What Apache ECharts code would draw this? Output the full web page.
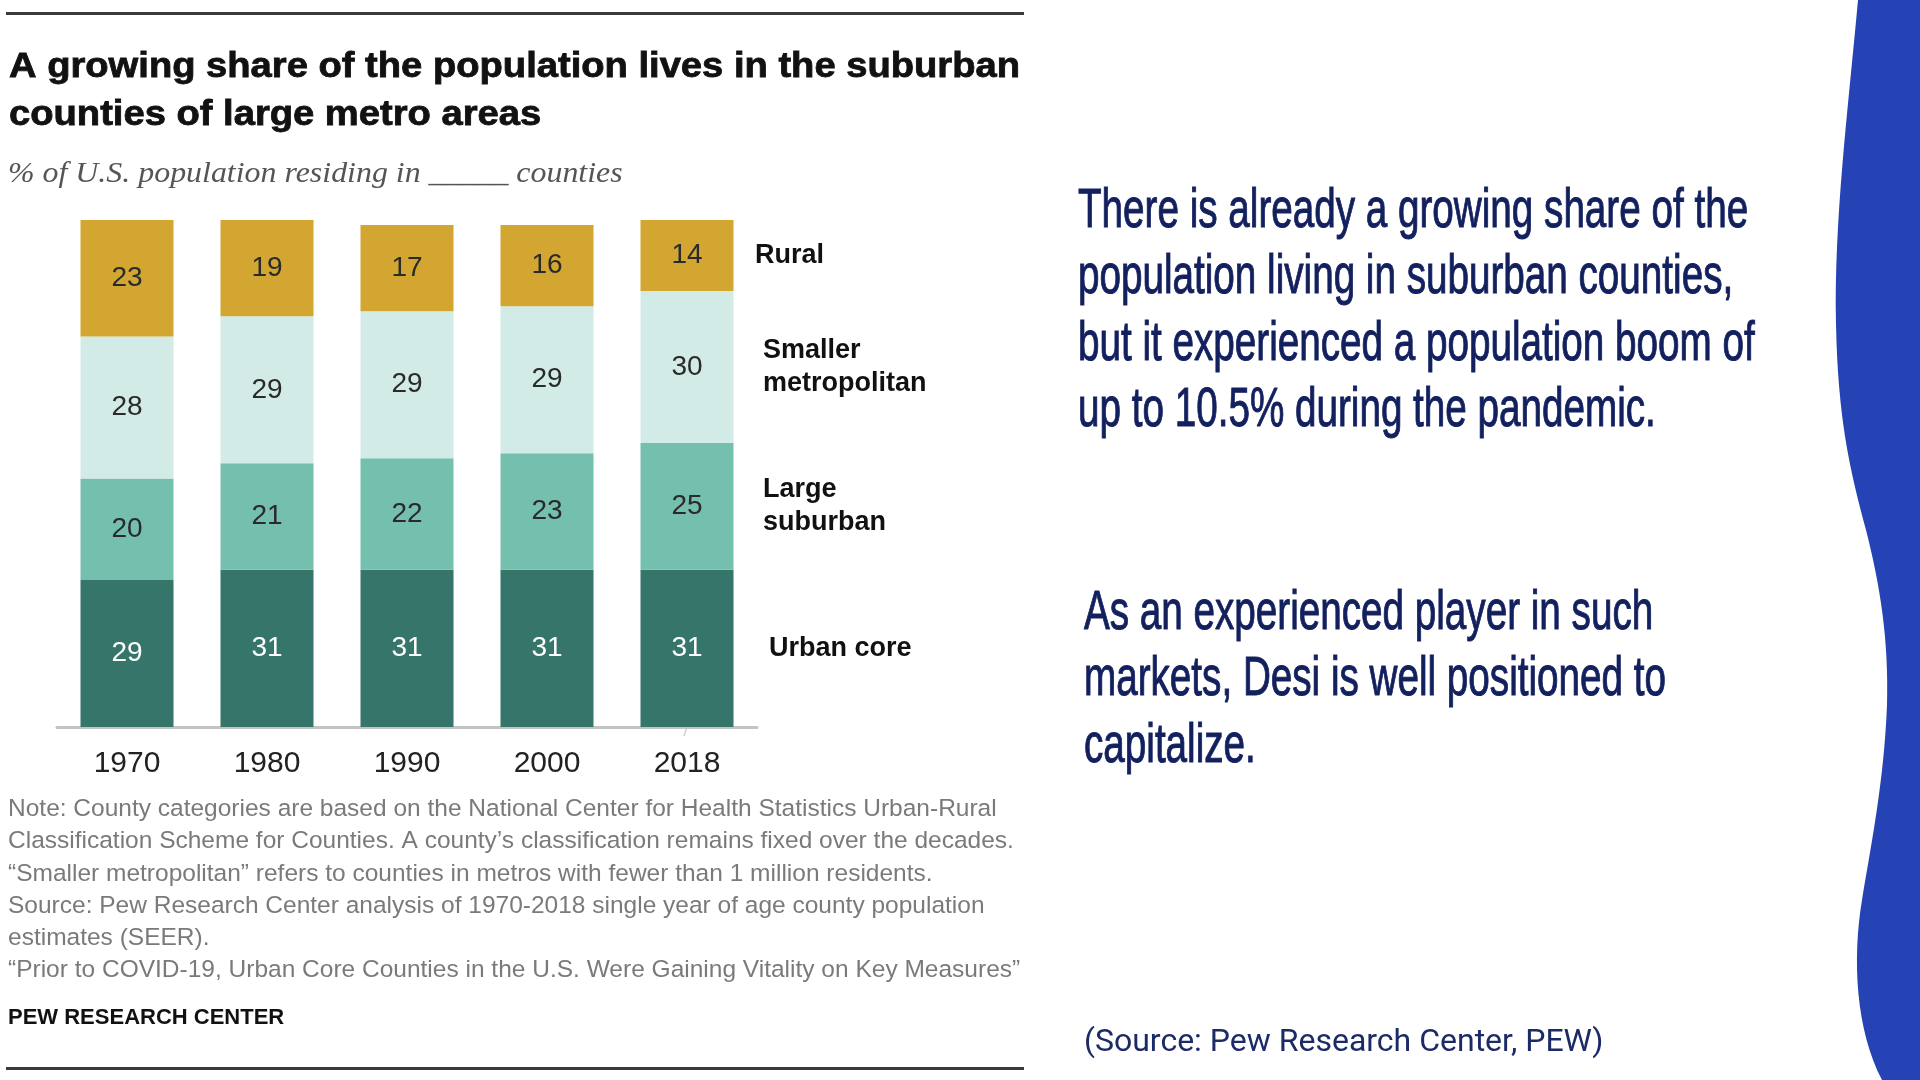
<!DOCTYPE html>
<html>
<head>
<meta charset="utf-8">
<script src="https://cdn.jsdelivr.net/npm/echarts@6/dist/echarts.min.js"></script>
<style>
  html, body { margin: 0; padding: 0; background: #fff; }
  #main { width: 1920px; height: 1080px; }
</style>
</head>
<body>
<div id="main"></div>
<script>
// data (% of U.S. population)
var years = ['1970', '1980', '1990', '2000', '2018'];
var groupNames = ['Urban core', 'Large\nsuburban', 'Smaller\nmetropolitan', 'Rural'];
var urbanCore = [29, 31, 31, 31, 31];
var largeSuburban = [20, 21, 22, 23, 25];
var smallerMetro = [28, 29, 29, 29, 30];
var rural = [23, 19, 17, 16, 14];
var yTicks = [0, 100];

var colors = ['#36766a', '#74bfae', '#d3ebe6', '#d2a631'];
var labelColors = ['#ffffff', '#2a2a2a', '#2a2a2a', '#2a2a2a'];
var sans = "'Liberation Sans', Arial, sans-serif";

var noteLines = [
  'Note: County categories are based on the National Center for Health Statistics Urban-Rural',
  'Classification Scheme for Counties. A county\u2019s classification remains fixed over the decades.',
  '\u201cSmaller metropolitan\u201d refers to counties in metros with fewer than 1 million residents.',
  'Source: Pew Research Center analysis of 1970-2018 single year of age county population',
  'estimates (SEER).',
  '\u201cPrior to COVID-19, Urban Core Counties in the U.S. Were Gaining Vitality on Key Measures\u201d'
];

// blue wave down the right edge of the slide
var wavePath = 'M1858,0 C1848,110 1834,220 1836,324 C1838,420 1850,470 1866,530 ' +
  'C1880,585 1889,640 1887,705 C1884,780 1872,840 1862,900 C1852,960 1856,1030 1882,1080 ' +
  'L1920,1080 L1920,0 Z';

var chartDom = document.getElementById('main');
var myChart = echarts.init(chartDom);
var option;

var values = [urbanCore, largeSuburban, smallerMetro, rural];

var barSeries = values.map(function (arr, k) {
  return {
    name: groupNames[k],
    type: 'bar',
    stack: 'total',
    barWidth: 93,
    data: arr,
    itemStyle: { color: colors[k] },
    label: {
      show: true,
      position: 'inside',
      color: labelColors[k],
      fontSize: 28,
      fontFamily: sans
    }
  };
});

barSeries.push({
  type: 'custom',
  coordinateSystem: 'none',
  silent: true,
  data: [0],
  renderItem: function () {
    return { type: 'path', shape: { pathData: wavePath }, style: { fill: '#2543b5' } };
  }
});

option = {
  backgroundColor: '#ffffff',
  animation: false,
  grid: { left: 57, width: 700, top: 220, bottom: 353 },
  xAxis: {
    type: 'category',
    data: years,
    axisTick: { show: false },
    axisLine: { lineStyle: { color: '#c4c4c4', width: 3 } },
    axisLabel: { color: '#222', fontSize: 30, fontFamily: sans, margin: 22 }
  },
  yAxis: {
    type: 'value',
    min: yTicks[0],
    max: yTicks[1],
    show: false,
    splitLine: { show: false }
  },
  series: barSeries
};

option && myChart.setOption(option);

// series names beside the 2018 bar, centred on each segment
var last = years.length - 1;
var cum = 0;
var g = [];
var nameShift = [10, 4, 4, -4];
values.forEach(function (arr, k) {
  var mid = cum + arr[last] / 2;
  cum += arr[last];
  var p = myChart.convertToPixel({ seriesIndex: k }, [last, mid]);
  g.push({
    type: 'text',
    x: p[0] + 46 + 26 + nameShift[k],
    y: p[1],
    style: {
      text: groupNames[k],
      fontFamily: sans,
      fontWeight: 'bold',
      fontSize: 27,
      lineHeight: 33,
      fill: '#111',
      verticalAlign: 'middle'
    }
  });
});

// small break mark on the axis between 2000 and 2018
var axisP = myChart.convertToPixel({ seriesIndex: 0 }, [3.5, 0]);
g.push(
  { type: 'rect', shape: { x: axisP[0] - 18, y: axisP[1] - 4, width: 36, height: 8 }, style: { fill: '#fff' } },
  { type: 'line', shape: { x1: axisP[0] - 12, y1: axisP[1], x2: axisP[0] + 10, y2: axisP[1] }, style: { stroke: '#d0d0d0', lineWidth: 2 } },
  { type: 'line', shape: { x1: axisP[0] - 3, y1: axisP[1] + 9, x2: axisP[0] + 3, y2: axisP[1] - 9 }, style: { stroke: '#d0d0d0', lineWidth: 1.5 } }
);

// panel rules, title, subtitle and notes
g.push(
  { type: 'rect', shape: { x: 6, y: 12, width: 1018, height: 3 }, style: { fill: '#3a3a3a' } },
  { type: 'rect', shape: { x: 6, y: 1067, width: 1018, height: 3 }, style: { fill: '#3a3a3a' } },
  {
    type: 'text', x: 9, y: 43, scaleX: 1.09,
    style: {
      text: 'A growing share of the population lives in the suburban\ncounties of large metro areas',
      fontFamily: sans, fontWeight: 'bold', fontSize: 35, lineHeight: 48,
      fill: '#111', stroke: '#111', lineWidth: 0.8, verticalAlign: 'top'
    }
  },
  {
    type: 'text', x: 8, y: 174, scaleX: 1.1,
    style: {
      text: '% of U.S. population residing in _____ counties',
      fontFamily: "'Liberation Serif', serif", fontStyle: 'italic', fontSize: 29,
      fill: '#555', verticalAlign: 'middle'
    }
  },
  {
    type: 'text', x: 8, y: 793,
    style: {
      text: noteLines.join('\n'),
      fontFamily: sans, fontSize: 24.5, lineHeight: 32.3,
      fill: '#7a7a7a', verticalAlign: 'top'
    }
  },
  {
    type: 'text', x: 8, y: 1018,
    style: {
      text: 'PEW RESEARCH CENTER',
      fontFamily: sans, fontWeight: 'bold', fontSize: 22,
      fill: '#111', verticalAlign: 'middle'
    }
  }
);

// right-hand commentary
g.push(
  {
    type: 'text', x: 1078, y: 178, scaleX: 0.69,
    style: {
      text: 'There is already a growing share of the\npopulation living in suburban counties,\nbut it experienced a population boom of\nup to 10.5% during the pandemic.',
      fontFamily: sans, fontSize: 56, lineHeight: 66.5,
      fill: '#13205e', stroke: '#13205e', lineWidth: 1, verticalAlign: 'top'
    }
  },
  {
    type: 'text', x: 1084, y: 580, scaleX: 0.69,
    style: {
      text: 'As an experienced player in such\nmarkets, Desi is well positioned to\ncapitalize.',
      fontFamily: sans, fontSize: 56, lineHeight: 66.5,
      fill: '#13205e', stroke: '#13205e', lineWidth: 1, verticalAlign: 'top'
    }
  },
  {
    type: 'text', x: 1084, y: 1043,
    style: {
      text: '(Source: Pew Research Center, PEW)',
      fontFamily: 'Roboto, sans-serif', fontSize: 32,
      fill: '#1c2a66', verticalAlign: 'middle'
    }
  }
);

myChart.setOption({ graphic: g });
</script>
</body>
</html>
